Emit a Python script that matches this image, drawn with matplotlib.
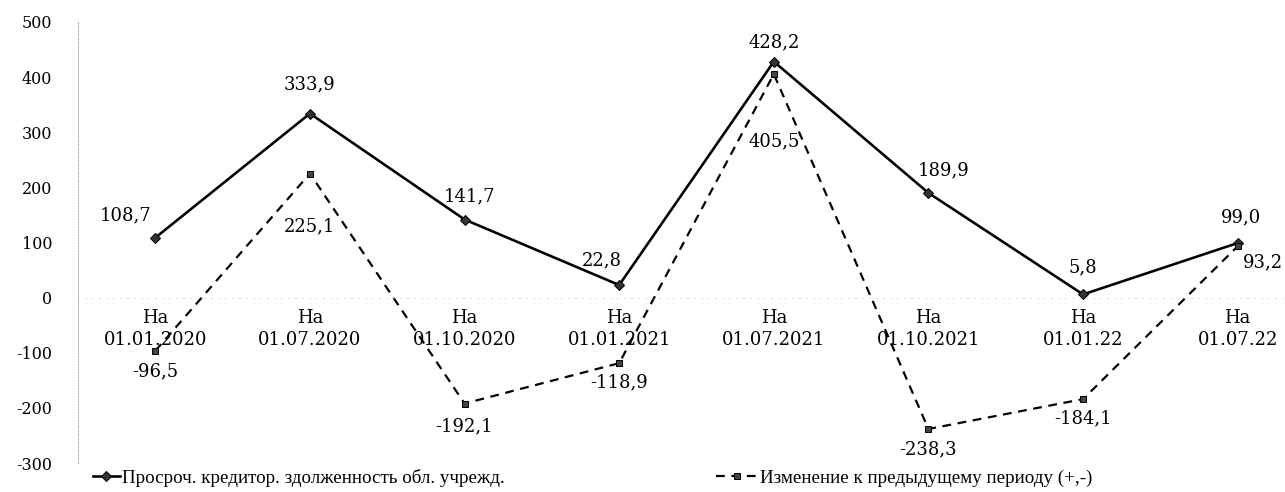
import matplotlib.pyplot as plt
from matplotlib.lines import Line2D

plt.rcParams['font.family'] = ['DejaVu Serif']
plt.rcParams['axes.unicode_minus'] = False

dates = ["01.01.2020", "01.07.2020", "01.10.2020", "01.01.2021",
         "01.07.2021", "01.10.2021", "01.01.22", "01.07.22"]
debt = [108.7, 333.9, 141.7, 22.8, 428.2, 189.9, 5.8, 99.0]
change = [-96.5, 225.1, -192.1, -118.9, 405.5, -238.3, -184.1, 93.2]

debt_name = "Просроч. кредитор. здолженность обл. учрежд."
change_name = "Изменение к предыдущему периоду (+,-)"

# label offsets in pixels (dpi = 72, so 1 pt = 1 px)
debt_off = [(-30, 22), (0, 29), (5, 23), (-17, 25), (0, 19), (15, 23), (0, 27), (3, 26)]
change_off = [(0, -21), (0, -53), (0, -23), (0, -19), (0, -67), (0, -20), (0, -19), (25, -16)]

fig = plt.figure(figsize=(1285 / 72, 492 / 72), dpi=72)
ax = fig.add_axes([78 / 1285, 29 / 492, 1207 / 1285, 441 / 492])

x = list(range(len(dates)))
ax.plot(x, debt, color='black', lw=2.6, marker='D', ms=7, mfc='#333333', mec='black')
ax.plot(x, change, color='black', lw=2.2, ls=(0, (4, 3)), marker='s', ms=6,
        mfc='#444444', mec='black')

fmt = lambda v: f"{v:.1f}".replace('.', ',')
for i, v in enumerate(debt):
    ax.annotate(fmt(v), (i, v), xytext=debt_off[i], textcoords='offset points',
                ha='center', va='center', fontsize=18)
for i, v in enumerate(change):
    ax.annotate(fmt(v), (i, v), xytext=change_off[i], textcoords='offset points',
                ha='center', va='center', fontsize=18)

for i, d in enumerate(dates):
    ax.annotate("На", (i, 0), xytext=(0, -20), textcoords='offset points',
                ha='center', va='center', fontsize=18)
    ax.annotate(d, (i, 0), xytext=(0, -42), textcoords='offset points',
                ha='center', va='center', fontsize=18)

ax.set_xlim(-0.5, 7.306)
ax.set_ylim(-300, 500)
ax.set_yticks(range(-300, 501, 100))
ax.set_xticks([])
ax.tick_params(axis='y', length=0, labelsize=16, pad=26)
for s in ['top', 'right', 'bottom']:
    ax.spines[s].set_visible(False)
ax.spines['left'].set_color('#aaaaaa')
ax.spines['left'].set_linestyle(':')
ax.spines['left'].set_linewidth(1)
ax.axhline(0, color='#bbbbbb', lw=1, ls=(0, (1, 6)))

h1 = Line2D([], [], color='black', lw=2.6, marker='D', ms=7, mfc='#333333', mec='black')
h2 = Line2D([], [], color='black', lw=2.2, ls=(0, (4, 3)), marker='s', ms=6,
            mfc='#444444', mec='black')
leg_font = {'family': 'Liberation Serif', 'size': 19}
fig.legend([h1], [debt_name], loc='center left', bbox_to_anchor=(93 / 1285, 14 / 492),
           frameon=False, prop=leg_font, handlelength=1.4, handletextpad=0.1,
           borderpad=0, borderaxespad=0)
fig.legend([h2], [change_name], loc='center left', bbox_to_anchor=(716 / 1285, 14 / 492),
           frameon=False, prop=leg_font, handlelength=2.2, handletextpad=0.1,
           borderpad=0, borderaxespad=0)

fig.savefig("out.png", dpi=72)
